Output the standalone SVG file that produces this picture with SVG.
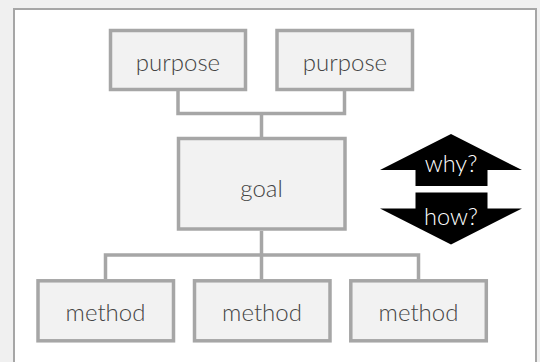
<svg xmlns="http://www.w3.org/2000/svg" width="540" height="362" viewBox="0 0 540 362">
<style>
.box{fill:#f2f2f2;stroke:#a6a6a6;stroke-width:3.5}
.lbl{font-family:Lato,"Liberation Sans",sans-serif;font-weight:300;font-size:24px;fill:#444444;text-anchor:middle}
.wl{font-family:Lato,"Liberation Sans",sans-serif;font-weight:300;font-size:23.5px;fill:#ffffff;text-anchor:middle}
.con{fill:none;stroke:#a6a6a6;stroke-width:3.5}
</style>
<rect x="0" y="0" width="540" height="362" fill="#f0f0f0"/>
<rect x="14" y="9" width="522" height="370" fill="#ffffff" stroke="#a6a6a6" stroke-width="2"/>
<g id="connectors">
<path class="con" d="M178,91 V113.5 H344.5 V91 M261.5,113.5 V137"/>
<path class="con" d="M261.5,231 V279 M105.5,279 V255 H418.5 V279"/>
</g>
<g id="purpose1"><rect class="box" x="110.5" y="30.5" width="135" height="59"/><text class="lbl" x="178" y="71">purpose</text></g>
<g id="purpose2"><rect class="box" x="277" y="30.5" width="135.5" height="59"/><text class="lbl" x="345" y="71">purpose</text></g>
<g id="goal"><rect class="box" x="178.5" y="138.5" width="166.5" height="90.5"/><text class="lbl" x="261.5" y="197">goal</text></g>
<g id="method1"><rect class="box" x="38" y="280.8" width="135.5" height="60"/><text class="lbl" x="105.5" y="321">method</text></g>
<g id="method2"><rect class="box" x="194.5" y="280.8" width="135.5" height="60"/><text class="lbl" x="262" y="321">method</text></g>
<g id="method3"><rect class="box" x="350.8" y="280.8" width="135.5" height="60"/><text class="lbl" x="418.5" y="321">method</text></g>
<g id="why"><path d="M451,134 L522,170 H487.5 V186 H415.5 V170 H380 Z" fill="#000"/><text class="wl" x="451" y="171.5">why?</text></g>
<g id="how"><path d="M415.5,192.5 H487.5 V208.5 H522 L451,244.5 L380,208.5 H415.5 Z" fill="#000"/><text class="wl" x="451" y="225">how?</text></g>
</svg>
